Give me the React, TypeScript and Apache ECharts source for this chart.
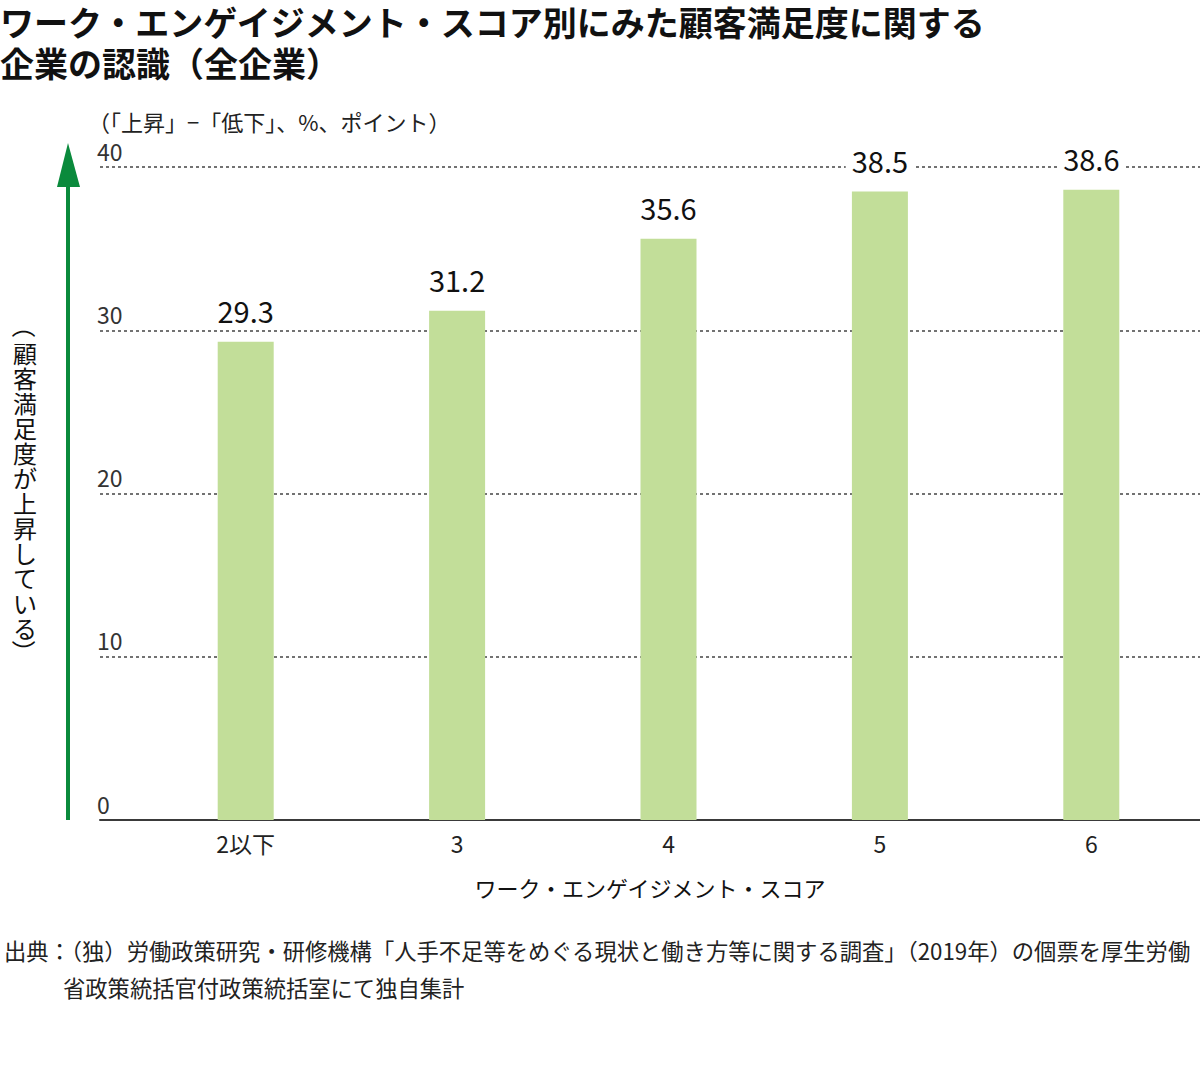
import React, { useEffect, useRef } from "react";
import * as echarts from "echarts";

const categories = ["2以下", "3", "4", "5", "6"];
const values = [29.3, 31.2, 35.6, 38.5, 38.6];
const yMin = 0;
const yMax = 40;
const yInterval = 10;

const titleText = "ワーク・エンゲイジメント・スコア別にみた顧客満足度に関する\n企業の認識（全企業）";
const unitText = "（「上昇」−「低下」、%、ポイント）";
const xName = "ワーク・エンゲイジメント・スコア";
const yNameOpen = "（";
const yNameChars = ["顧", "客", "満", "足", "度", "が", "上", "昇", "し", "て", "い", "る"];
const yNameClose = "）";
const sourceLine1 = "出典：（独）労働政策研究・研修機構「人手不足等をめぐる現状と働き方等に関する調査」（2019年）の個票を厚生労働";
const sourceLine2 = "省政策統括官付政策統括室にて独自集計";

const FONT = "'Noto Sans CJK JP', 'Noto Sans', sans-serif";

export default function App() {
  const ref = useRef<HTMLDivElement>(null);
  useEffect(() => {
    if (!ref.current) return;
    const chart = echarts.init(ref.current, undefined, { renderer: "svg" });
    const charStyle = (t: string) => ({
      text: t,
      fontFamily: FONT,
      fontSize: 24,
      fill: "#111",
      align: "center",
      verticalAlign: "middle",
    });
    const lastY = (yNameChars.length - 1) * 25;
    const yNameChildren: any[] = [
      { type: "text", x: 0, y: -26, rotation: -Math.PI / 2, style: charStyle(yNameOpen) },
      ...yNameChars.map((c, i) => ({
        type: "text",
        x: 0,
        y: i * 25,
        style: charStyle(c),
      })),
      {
        type: "text",
        x: 0,
        y: lastY + 25,
        rotation: -Math.PI / 2,
        style: charStyle(yNameClose),
      },
    ];
    const option: any = {
      animation: false,
      backgroundColor: "#ffffff",
      textStyle: { fontFamily: FONT },
      title: {
        text: titleText,
        left: 0,
        top: 1,
        padding: 0,
        textStyle: {
          fontFamily: FONT,
          fontSize: 34,
          fontWeight: "bold",
          color: "#111",
          lineHeight: 41,
        },
      },
      grid: [
        { left: 100, right: 0, top: 167, bottom: 260 },
        { left: 140, right: 3, top: 167, bottom: 260 },
      ],
      xAxis: [
        {
          type: "category",
          gridIndex: 0,
          data: categories,
          axisLine: { show: true, lineStyle: { color: "#3a3a3a", width: 2 } },
          axisTick: { show: false },
          axisLabel: { show: false },
          splitLine: { show: false },
          name: xName,
          nameLocation: "middle",
          nameGap: 56,
          nameTextStyle: { fontFamily: FONT, fontSize: 22, color: "#111" },
        },
        {
          type: "category",
          gridIndex: 1,
          data: categories,
          axisLine: { show: false },
          axisTick: { show: false },
          axisLabel: {
            show: true,
            margin: 11,
            fontFamily: FONT,
            fontSize: 23,
            color: "#222",
          },
        },
      ],
      yAxis: [
        {
          type: "value",
          gridIndex: 0,
          min: yMin,
          max: yMax,
          interval: yInterval,
          axisLine: { show: false },
          axisTick: { show: false },
          axisLabel: {
            show: true,
            inside: true,
            margin: -3,
            verticalAlign: "bottom",
            padding: [0, 0, 5, 0],
            fontFamily: FONT,
            fontSize: 23,
            color: "#333",
          },
          splitLine: {
            show: true,
            lineStyle: { color: "#444", width: 1.5, type: [3, 3] },
          },
        },
        {
          type: "value",
          gridIndex: 1,
          min: yMin,
          max: yMax,
          interval: yInterval,
          show: false,
          splitLine: { show: false },
        },
      ],
      series: [
        {
          type: "bar",
          xAxisIndex: 1,
          yAxisIndex: 1,
          data: values,
          barWidth: 56,
          itemStyle: { color: "#c2de99" },
          label: {
            show: true,
            position: "top",
            distance: 17,
            fontFamily: FONT,
            fontSize: 29,
            color: "#111",
            backgroundColor: "#ffffff",
            padding: [0, 6, 0, 6],
            formatter: (p: any) => p.value.toFixed(1),
          },
        },
      ],
      graphic: [
        {
          type: "line",
          shape: { x1: 68, y1: 820, x2: 68, y2: 180 },
          style: { stroke: "#0a8a3c", lineWidth: 4 },
        },
        {
          type: "polygon",
          shape: { points: [[68, 143], [57, 187], [80, 187]] },
          style: { fill: "#0a8a3c" },
        },
        {
          type: "text",
          x: 88,
          y: 121,
          style: {
            text: unitText,
            fontFamily: FONT,
            fontSize: 22,
            fill: "#222",
            verticalAlign: "middle",
          },
        },
        {
          type: "group",
          x: 25,
          y: 352,
          children: yNameChildren,
        },
        {
          type: "text",
          x: 4,
          y: 950,
          style: {
            text: sourceLine1,
            fontFamily: FONT,
            fontSize: 22.3,
            fill: "#222",
            verticalAlign: "middle",
          },
        },
        {
          type: "text",
          x: 63,
          y: 987,
          style: {
            text: sourceLine2,
            fontFamily: FONT,
            fontSize: 22.3,
            fill: "#222",
            verticalAlign: "middle",
          },
        },
      ],
    };
    chart.setOption(option);
    return () => chart.dispose();
  }, []);
  return (
    <div
      ref={ref}
      style={{ position: "absolute", left: 0, top: 0, width: 1200, height: 1080 }}
    />
  );
}
